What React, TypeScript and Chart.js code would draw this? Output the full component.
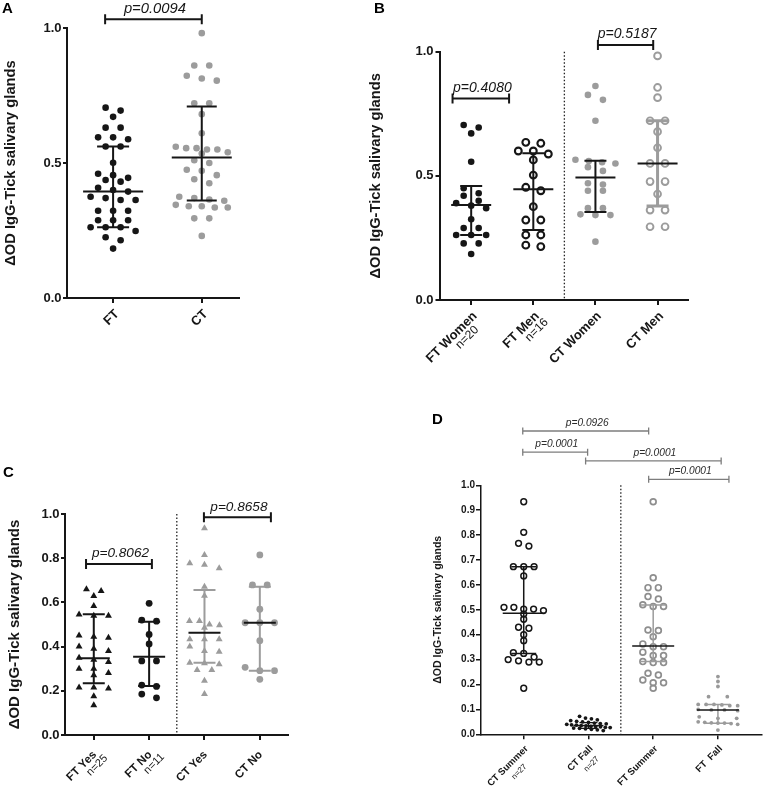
import React, { useEffect, useRef } from 'react';
import { Chart, registerables } from 'chart.js';

Chart.register(...registerables);

const FONT = '"Liberation Sans", Arial, Helvetica, sans-serif';
const BLACK = '#161616';
const GRAY = '#9c9c9c';
const BRACKET_GRAY = '#7d7d7d';
const PAGE_W = 767;
const PAGE_H = 787;
const X_AXIS_H = 50;

const Y_TITLE = 'ΔOD IgG-Tick salivary glands';

// ---------------- DATA ----------------
// Panel A
const A_CATEGORIES = ['FT', 'CT'];
const A_SUBLABELS = ['', ''];
const A_FT = [0.705, 0.694, 0.671, 0.631, 0.631, 0.595, 0.595, 0.588, 0.561, 0.561, 0.501, 0.46, 0.455, 0.445, 0.437, 0.431, 0.408, 0.4, 0.394, 0.375, 0.37, 0.363, 0.363, 0.323, 0.323, 0.323, 0.288, 0.288, 0.288, 0.262, 0.262, 0.262, 0.248, 0.225, 0.214, 0.183];
const A_CT = [0.981, 0.861, 0.861, 0.823, 0.813, 0.805, 0.721, 0.721, 0.681, 0.61, 0.56, 0.555, 0.555, 0.55, 0.55, 0.54, 0.535, 0.51, 0.5, 0.475, 0.471, 0.455, 0.44, 0.425, 0.375, 0.37, 0.365, 0.36, 0.345, 0.34, 0.34, 0.335, 0.335, 0.295, 0.295, 0.23];
const A_MEDIAN = [0.394, 0.52];
const A_Q1 = [0.262, 0.361];
const A_Q3 = [0.561, 0.709];
const A_PVALUES = ['p=0.0094'];
const A_YTICKS = [0, 0.5, 1.0];

// Panel B
const B_CATEGORIES = ['FT Women', 'FT Men', 'CT Women', 'CT Men'];
const B_SUBLABELS = ['n=20', 'n=16', '', ''];
const B_FT_WOMEN = [0.705, 0.695, 0.671, 0.557, 0.45, 0.43, 0.42, 0.4, 0.39, 0.38, 0.37, 0.325, 0.29, 0.29, 0.262, 0.262, 0.262, 0.228, 0.228, 0.185];
const B_FT_MEN = [0.635, 0.631, 0.6, 0.6, 0.588, 0.564, 0.503, 0.454, 0.44, 0.376, 0.322, 0.322, 0.262, 0.262, 0.221, 0.215];
const B_CT_WOMEN = [0.862, 0.826, 0.806, 0.722, 0.565, 0.56, 0.555, 0.55, 0.535, 0.52, 0.47, 0.465, 0.44, 0.44, 0.37, 0.37, 0.345, 0.342, 0.342, 0.235];
const B_CT_MEN = [0.983, 0.856, 0.815, 0.722, 0.722, 0.678, 0.613, 0.55, 0.55, 0.477, 0.477, 0.427, 0.362, 0.362, 0.295, 0.295];
const B_MEDIAN = [0.383, 0.446, 0.493, 0.55];
const B_Q1 = [0.262, 0.282, 0.354, 0.379];
const B_Q3 = [0.459, 0.591, 0.561, 0.722];
const B_PVALUES = ['p=0.4080', 'p=0.5187'];
const B_YTICKS = [0, 0.5, 1.0];

// Panel C
const C_CATEGORIES = ['FT Yes', 'FT No', 'CT Yes', 'CT No'];
const C_SUBLABELS = ['n=25', 'n=11', '', ''];
const C_FT_YES = [0.659, 0.652, 0.629, 0.584, 0.545, 0.54, 0.54, 0.45, 0.445, 0.44, 0.4, 0.39, 0.38, 0.35, 0.34, 0.33, 0.3, 0.3, 0.28, 0.27, 0.215, 0.215, 0.21, 0.175, 0.135];
const C_FT_NO = [0.596, 0.52, 0.515, 0.455, 0.412, 0.335, 0.335, 0.226, 0.22, 0.185, 0.168];
const C_CT_YES = [0.935, 0.815, 0.777, 0.77, 0.754, 0.671, 0.63, 0.516, 0.516, 0.5, 0.497, 0.485, 0.433, 0.433, 0.433, 0.4, 0.38, 0.377, 0.327, 0.325, 0.32, 0.294, 0.294, 0.246, 0.186];
const C_CT_NO = [0.815, 0.679, 0.679, 0.569, 0.508, 0.508, 0.508, 0.427, 0.306, 0.291, 0.291, 0.252];
const C_MEDIAN = [0.347, 0.354, 0.463, 0.508];
const C_Q1 = [0.234, 0.222, 0.327, 0.291];
const C_Q3 = [0.546, 0.513, 0.656, 0.671];
const C_PVALUES = ['p=0.8062', 'p=0.8658'];
const C_YTICKS = [0, 0.2, 0.4, 0.6, 0.8, 1.0];

// Panel D
const D_CATEGORIES = ['CT Summer', 'CT Fall', 'FT Summer', 'FT  Fall'];
const D_SUBLABELS = ['n=27', 'n=27', '', ''];
const D_CT_SUMMER = [0.934, 0.811, 0.767, 0.756, 0.673, 0.673, 0.673, 0.636, 0.51, 0.51, 0.503, 0.503, 0.497, 0.483, 0.462, 0.43, 0.426, 0.4, 0.376, 0.328, 0.325, 0.31, 0.3, 0.295, 0.29, 0.29, 0.185];
const D_CT_FALL = [0.072, 0.065, 0.062, 0.058, 0.055, 0.052, 0.05, 0.048, 0.045, 0.043, 0.042, 0.04, 0.038, 0.037, 0.035, 0.034, 0.032, 0.031, 0.03, 0.028, 0.027, 0.025, 0.024, 0.022, 0.02, 0.018, 0.015];
const D_FT_SUMMER = [0.934, 0.629, 0.589, 0.589, 0.553, 0.543, 0.52, 0.513, 0.513, 0.419, 0.417, 0.392, 0.363, 0.352, 0.352, 0.33, 0.316, 0.316, 0.292, 0.288, 0.288, 0.245, 0.238, 0.218, 0.207, 0.207, 0.185];
const D_FT_FALL = [0.232, 0.212, 0.192, 0.151, 0.151, 0.12, 0.12, 0.12, 0.118, 0.115, 0.115, 0.1, 0.098, 0.098, 0.095, 0.07, 0.064, 0.064, 0.05, 0.048, 0.046, 0.045, 0.045, 0.043, 0.04, 0.017];
const D_MEDIAN = [0.486, 0.035, 0.355, 0.098];
const D_Q1 = [0.325, 0.024, 0.292, 0.044];
const D_Q3 = [0.673, 0.047, 0.519, 0.12];
const D_PVALUES = ['p=0.0926', 'p=0.0001', 'p=0.0001', 'p=0.0001'];
const D_YTICKS = [0, 0.1, 0.2, 0.3, 0.4, 0.5, 0.6, 0.7, 0.8, 0.9, 1.0];

// ---------------- STYLES / LAYOUT ----------------
interface GroupStyle {
  shape: 'circle' | 'triangle';
  radius: number;
  fill: string;
  stroke: string;
  strokeWidth: number;
  thr: number;
  spacing: number;
  maxSpan: number;
  barColor: string;
  barWidth: number;
  medianColor: string;
  medianWidth: number;
  medianHalf: number;
  capHalf: number;
}

interface Bracket { x1: number; x2: number; y: number }

interface PanelSpec {
  letter: string;
  letterPos: [number, number];
  letterFont: number;
  area: { l: number; t: number; r: number; b: number };
  titleLeft: number;
  titleFont: number;
  xMin: number;
  xMax: number;
  yTicks: number[];
  tickFont: number;
  tickPad: number;
  tickLen: number;
  axisWidth: number;
  labels: string[];
  subLabels: string[];
  labelFont: number;
  subFont: number;
  labelAnchor: [number, number];
  subOffset: [number, number];
  groups: number[][];
  styles: GroupStyle[];
  median: number[];
  q1: number[];
  q3: number[];
  brackets: Bracket[];
  pLabels: string[];
  pFont: number;
  pGap: number;
  pColor: string;
  capH: number;
  bracketColor: string;
  bracketWidth: number;
  separators: number[];
}

function gs(p: Partial<GroupStyle>): GroupStyle {
  return {
    shape: 'circle', radius: 3.3, fill: BLACK, stroke: BLACK, strokeWidth: 0,
    thr: 5.5, spacing: 15, maxSpan: 45,
    barColor: BLACK, barWidth: 2, medianColor: BLACK, medianWidth: 2, medianHalf: 30, capHalf: 16,
    ...p,
  };
}

const OPEN = 'rgba(0,0,0,0)';

const SPEC_A: PanelSpec = {
  letter: 'A', letterPos: [2, 12.5], letterFont: 15,
  area: { l: 67, t: 28, r: 239, b: 298 }, titleLeft: 2, titleFont: 14.7,
  xMin: -0.52, xMax: 1.42, yTicks: A_YTICKS, tickFont: 13, tickPad: 1.5, tickLen: 4, axisWidth: 2,
  labels: A_CATEGORIES, subLabels: A_SUBLABELS, labelFont: 13, subFont: 11, labelAnchor: [4, 14], subOffset: [11, 11],
  groups: [A_FT, A_CT],
  styles: [
    gs({ fill: BLACK, maxSpan: 52 }),
    gs({ fill: GRAY, stroke: GRAY, maxSpan: 52, capHalf: 15 }),
  ],
  median: A_MEDIAN, q1: A_Q1, q3: A_Q3,
  brackets: [{ x1: -0.09, x2: 1.0, y: 1.032 }], pLabels: A_PVALUES, pFont: 14.8, pGap: 6.5, pColor: BLACK,
  capH: 5, bracketColor: BLACK, bracketWidth: 2, separators: [],
};

const SPEC_B: PanelSpec = {
  letter: 'B', letterPos: [374, 12.5], letterFont: 15,
  area: { l: 439.5, t: 51.7, r: 688, b: 300 }, titleLeft: 367.6, titleFont: 14.7,
  xMin: -0.51, xMax: 3.49, yTicks: B_YTICKS, tickFont: 13, tickPad: 2, tickLen: 4, axisWidth: 2,
  labels: B_CATEGORIES, subLabels: B_SUBLABELS, labelFont: 13, subFont: 12, labelAnchor: [4, 14], subOffset: [11, 11],
  groups: [B_FT_WOMEN, B_FT_MEN, B_CT_WOMEN, B_CT_MEN],
  styles: [
    gs({ fill: BLACK, maxSpan: 40, medianHalf: 20, capHalf: 11 }),
    gs({ fill: OPEN, stroke: BLACK, strokeWidth: 2.1, radius: 3.4, maxSpan: 40, medianHalf: 20, capHalf: 11 }),
    gs({ fill: GRAY, stroke: GRAY, maxSpan: 40, medianHalf: 20, capHalf: 11 }),
    gs({ fill: OPEN, stroke: GRAY, strokeWidth: 1.9, radius: 3.4, maxSpan: 40, barColor: GRAY, barWidth: 3, medianHalf: 20, capHalf: 11 }),
  ],
  median: B_MEDIAN, q1: B_Q1, q3: B_Q3,
  brackets: [{ x1: -0.3, x2: 0.61, y: 0.812 }, { x1: 2.04, x2: 2.93, y: 1.027 }], pLabels: B_PVALUES, pFont: 14, pGap: 6.5, pColor: BLACK,
  capH: 5, bracketColor: BLACK, bracketWidth: 2, separators: [1.5],
};

const SPEC_C: PanelSpec = {
  letter: 'C', letterPos: [3, 477], letterFont: 15,
  area: { l: 65, t: 514, r: 287.5, b: 735 }, titleLeft: 6, titleFont: 15,
  xMin: -0.52, xMax: 3.5, yTicks: C_YTICKS, tickFont: 13, tickPad: 1.5, tickLen: 4, axisWidth: 2,
  labels: C_CATEGORIES, subLabels: C_SUBLABELS, labelFont: 11.5, subFont: 11, labelAnchor: [1, 18], subOffset: [11.5, 10.5],
  groups: [C_FT_YES, C_FT_NO, C_CT_YES, C_CT_NO],
  styles: [
    gs({ shape: 'triangle', radius: 4, fill: BLACK, spacing: 14.7, maxSpan: 30, medianHalf: 16, capHalf: 11 }),
    gs({ radius: 3.4, fill: BLACK, spacing: 14.7, maxSpan: 30, medianHalf: 16, capHalf: 11 }),
    gs({ shape: 'triangle', radius: 4, fill: GRAY, stroke: GRAY, spacing: 14.7, maxSpan: 30, barColor: GRAY, medianHalf: 16, capHalf: 11 }),
    gs({ radius: 3.4, fill: GRAY, stroke: GRAY, spacing: 14.7, maxSpan: 30, barColor: GRAY, medianHalf: 16, capHalf: 11 }),
  ],
  median: C_MEDIAN, q1: C_Q1, q3: C_Q3,
  brackets: [{ x1: -0.14, x2: 1.05, y: 0.774 }, { x1: 1.99, x2: 3.2, y: 0.985 }], pLabels: C_PVALUES, pFont: 13.6, pGap: 6.5, pColor: BLACK,
  capH: 5, bracketColor: BLACK, bracketWidth: 2, separators: [1.5],
};

const SPEC_D: PanelSpec = {
  letter: 'D', letterPos: [432, 424], letterFont: 15,
  area: { l: 481, t: 485.3, r: 765, b: 734.3 }, titleLeft: 432, titleFont: 10.6,
  xMin: -0.66, xMax: 3.67, yTicks: D_YTICKS, tickFont: 10, tickPad: 1, tickLen: 5, axisWidth: 1.5,
  labels: D_CATEGORIES, subLabels: D_SUBLABELS, labelFont: 9.5, subFont: 8, labelAnchor: [3, 13], subOffset: [4, 12],
  groups: [D_CT_SUMMER, D_CT_FALL, D_FT_SUMMER, D_FT_FALL],
  styles: [
    gs({ radius: 2.9, fill: OPEN, stroke: BLACK, strokeWidth: 1.5, thr: 4.5, spacing: 10.5, maxSpan: 40, barWidth: 1.5, medianWidth: 1.5, medianHalf: 21, capHalf: 12.5 }),
    gs({ radius: 1.9, fill: BLACK, thr: 3.5, spacing: 6, maxSpan: 44, barWidth: 1.3, medianWidth: 1.5, medianHalf: 15, capHalf: 9 }),
    gs({ radius: 2.9, fill: OPEN, stroke: '#8e8e8e', strokeWidth: 1.7, thr: 4.5, spacing: 10.5, maxSpan: 40, barColor: GRAY, barWidth: 1.5, medianWidth: 1.5, medianHalf: 21, capHalf: 12.5 }),
    gs({ radius: 1.9, fill: '#999999', stroke: '#999999', thr: 3.5, spacing: 19, maxSpan: 40, barColor: GRAY, barWidth: 1.5, medianWidth: 1.5, medianHalf: 21, capHalf: 12.5 }),
  ],
  median: D_MEDIAN, q1: D_Q1, q3: D_Q3,
  brackets: [
    { x1: -0.015, x2: 1.93, y: 1.218 },
    { x1: -0.015, x2: 0.987, y: 1.133 },
    { x1: 0.956, x2: 3.05, y: 1.098 },
    { x1: 1.93, x2: 3.17, y: 1.024 },
  ],
  pLabels: D_PVALUES, pFont: 10.2, pGap: 5, pColor: '#2a2a2a',
  capH: 3.5, bracketColor: BRACKET_GRAY, bracketWidth: 1.3, separators: [1.5],
};

const SPECS = [SPEC_A, SPEC_B, SPEC_C, SPEC_D];

// Prism-like row layout of the scatter points
function swarmOffsets(values: number[], pxPerUnit: number, pxPerCat: number, st: GroupStyle): number[] {
  const order = values.map((_, i) => i).sort((a, b) => values[b] - values[a]);
  const offsets = new Array(values.length).fill(0);
  let row: number[] = [];
  const flush = () => {
    const n = row.length;
    if (!n) return;
    const s = n > 1 ? Math.min(st.spacing, st.maxSpan / (n - 1)) : 0;
    row.forEach((idx, k) => {
      offsets[idx] = ((k - (n - 1) / 2) * s) / pxPerCat;
    });
    row = [];
  };
  for (const idx of order) {
    if (row.length && (values[row[0]] - values[idx]) * pxPerUnit >= st.thr) flush();
    row.push(idx);
  }
  flush();
  return offsets;
}

function makePlugin(spec: PanelSpec) {
  return {
    id: 'deco' + spec.letter,
    afterDatasetsDraw(chart: any) {
      const ctx = chart.ctx as CanvasRenderingContext2D;
      const xs = chart.scales.x;
      const ys = chart.scales.y;
      ctx.save();
      ctx.lineCap = 'butt';
      spec.groups.forEach((_, i) => {
        const st = spec.styles[i];
        const cx = xs.getPixelForValue(i);
        const yM = ys.getPixelForValue(spec.median[i]);
        const y1 = ys.getPixelForValue(spec.q1[i]);
        const y3 = ys.getPixelForValue(spec.q3[i]);
        ctx.strokeStyle = st.barColor;
        ctx.lineWidth = st.barWidth;
        ctx.beginPath();
        ctx.moveTo(cx, y3);
        ctx.lineTo(cx, y1);
        ctx.moveTo(cx - st.capHalf, y3);
        ctx.lineTo(cx + st.capHalf, y3);
        ctx.moveTo(cx - st.capHalf, y1);
        ctx.lineTo(cx + st.capHalf, y1);
        ctx.stroke();
        ctx.strokeStyle = st.medianColor;
        ctx.lineWidth = st.medianWidth;
        ctx.beginPath();
        ctx.moveTo(cx - st.medianHalf, yM);
        ctx.lineTo(cx + st.medianHalf, yM);
        ctx.stroke();
      });
      ctx.restore();
    },
    afterDraw(chart: any) {
      const ctx = chart.ctx as CanvasRenderingContext2D;
      const xs = chart.scales.x;
      const ys = chart.scales.y;
      const area = chart.chartArea;
      ctx.save();
      // dotted separators
      spec.separators.forEach((sx) => {
        const px = xs.getPixelForValue(sx);
        ctx.strokeStyle = '#222';
        ctx.lineWidth = 1.3;
        ctx.setLineDash([1.5, 2]);
        ctx.beginPath();
        ctx.moveTo(px, area.top);
        ctx.lineTo(px, area.bottom);
        ctx.stroke();
      });
      ctx.setLineDash([]);
      // brackets + p values
      spec.brackets.forEach((br, i) => {
        const x1 = xs.getPixelForValue(br.x1);
        const x2 = xs.getPixelForValue(br.x2);
        const y = ys.getPixelForValue(br.y);
        ctx.strokeStyle = spec.bracketColor;
        ctx.lineWidth = spec.bracketWidth;
        ctx.beginPath();
        ctx.moveTo(x1, y);
        ctx.lineTo(x2, y);
        ctx.moveTo(x1, y - spec.capH);
        ctx.lineTo(x1, y + spec.capH);
        ctx.moveTo(x2, y - spec.capH);
        ctx.lineTo(x2, y + spec.capH);
        ctx.stroke();
        ctx.fillStyle = spec.pColor;
        ctx.font = `italic ${spec.pFont}px ${FONT}`;
        ctx.textAlign = 'center';
        ctx.textBaseline = 'alphabetic';
        ctx.fillText(spec.pLabels[i], (x1 + x2) / 2 + 1.5, y - spec.pGap);
      });
      // rotated category labels
      spec.labels.forEach((lab, i) => {
        const cx = xs.getPixelForValue(i);
        ctx.save();
        ctx.translate(cx + spec.labelAnchor[0], area.bottom + spec.labelAnchor[1]);
        ctx.rotate(-Math.PI / 4);
        ctx.fillStyle = BLACK;
        ctx.font = `bold ${spec.labelFont}px ${FONT}`;
        ctx.textAlign = 'right';
        ctx.textBaseline = 'middle';
        ctx.fillText(lab, 0, 0);
        const sub = spec.subLabels[i];
        if (sub) {
          const w = ctx.measureText(lab).width;
          ctx.font = `${spec.subFont}px ${FONT}`;
          ctx.textAlign = 'center';
          ctx.fillText(sub, -w / 2 + spec.subOffset[0], spec.subOffset[1]);
        }
        ctx.restore();
      });
      // panel letter
      ctx.fillStyle = '#000';
      ctx.font = `bold ${spec.letterFont}px ${FONT}`;
      ctx.textAlign = 'left';
      ctx.textBaseline = 'alphabetic';
      ctx.fillText(spec.letter, spec.letterPos[0], spec.letterPos[1]);
      ctx.restore();
    },
  };
}

function buildConfig(spec: PanelSpec): any {
  const { area } = spec;
  const pxPerCat = (area.r - area.l) / (spec.xMax - spec.xMin);
  const yMin = spec.yTicks[0];
  const yMax = spec.yTicks[spec.yTicks.length - 1];
  const pxPerUnit = (area.b - area.t) / (yMax - yMin);
  const datasets = spec.groups.map((vals, gi) => {
    const st = spec.styles[gi];
    const offs = swarmOffsets(vals, pxPerUnit, pxPerCat, st);
    return {
      type: 'scatter',
      data: vals.map((v, k) => ({ x: gi + offs[k], y: v })),
      pointStyle: st.shape,
      pointRadius: st.radius,
      backgroundColor: st.fill,
      borderColor: st.stroke,
      borderWidth: st.strokeWidth,
      showLine: false,
      clip: false,
    };
  });
  const yAxisW = area.l - spec.titleLeft;
  return {
    type: 'scatter',
    data: { datasets },
    options: {
      animation: false,
      responsive: false,
      events: [],
      layout: {
        padding: {
          left: spec.titleLeft,
          top: area.t,
          right: PAGE_W - area.r,
          bottom: PAGE_H - area.b - X_AXIS_H,
        },
      },
      plugins: { legend: { display: false }, tooltip: { enabled: false }, title: { display: false } },
      scales: {
        x: {
          type: 'linear',
          min: spec.xMin,
          max: spec.xMax,
          afterBuildTicks: (axis: any) => {
            axis.ticks = spec.labels.map((_, i) => ({ value: i }));
          },
          afterFit: (axis: any) => {
            axis.height = X_AXIS_H;
          },
          ticks: { display: false },
          grid: {
            display: true,
            drawOnChartArea: false,
            drawTicks: true,
            tickLength: 5,
            color: BLACK,
            lineWidth: spec.axisWidth,
          },
          border: { display: true, color: BLACK, width: spec.axisWidth },
        },
        y: {
          type: 'linear',
          min: yMin,
          max: yMax,
          afterBuildTicks: (axis: any) => {
            axis.ticks = spec.yTicks.map((v) => ({ value: v }));
          },
          afterFit: (axis: any) => {
            axis.width = yAxisW;
          },
          ticks: {
            color: BLACK,
            font: { family: FONT, size: spec.tickFont, weight: 'bold' },
            padding: spec.tickPad,
            callback: (v: any) => Number(v).toFixed(1),
          },
          grid: {
            display: true,
            drawOnChartArea: false,
            drawTicks: true,
            tickLength: spec.tickLen,
            color: BLACK,
            lineWidth: spec.axisWidth,
          },
          border: { display: true, color: BLACK, width: spec.axisWidth },
          title: {
            display: true,
            text: Y_TITLE,
            color: BLACK,
            font: { family: FONT, size: spec.titleFont, weight: 'bold' },
            padding: 0,
          },
        },
      },
    },
    plugins: [makePlugin(spec)],
  };
}

export default function App() {
  const refs = [useRef<HTMLCanvasElement>(null), useRef<HTMLCanvasElement>(null), useRef<HTMLCanvasElement>(null), useRef<HTMLCanvasElement>(null)];
  useEffect(() => {
    const charts: Chart[] = [];
    SPECS.forEach((spec, i) => {
      const c = refs[i].current;
      if (!c) return;
      charts.push(new Chart(c, buildConfig(spec)));
    });
    return () => charts.forEach((ch) => ch.destroy());
  }, []);
  return (
    <div style={{ position: 'absolute', left: 0, top: 0, width: PAGE_W, height: PAGE_H, background: '#fff', overflow: 'hidden' }}>
      {refs.map((r, i) => (
        <canvas
          key={i}
          ref={r}
          width={PAGE_W}
          height={PAGE_H}
          style={{ position: 'absolute', left: 0, top: 0, width: PAGE_W, height: PAGE_H }}
        />
      ))}
    </div>
  );
}
